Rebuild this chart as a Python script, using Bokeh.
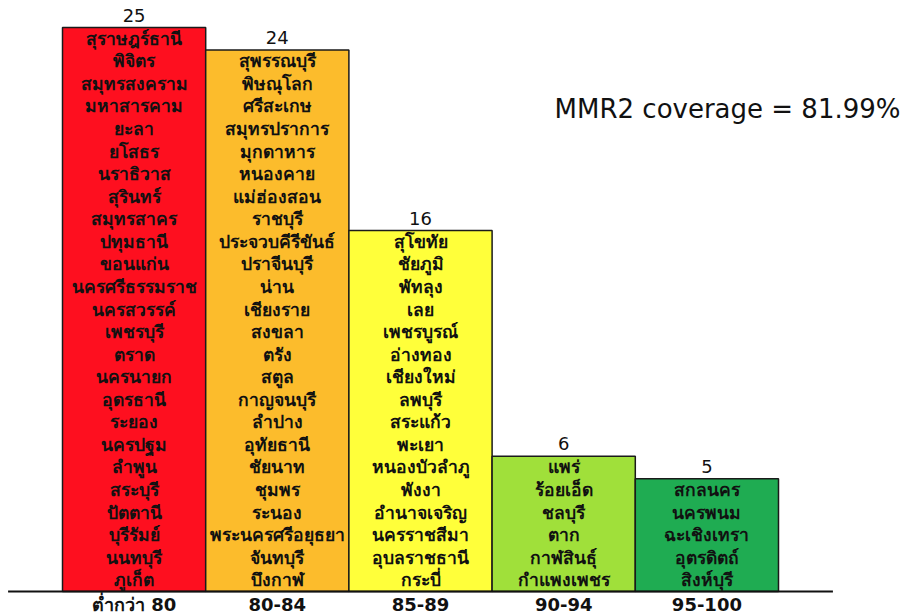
from bokeh.plotting import figure
from bokeh.models import ColumnDataSource, Range1d, Label
from bokeh.core.properties import value
from bokeh.embed import file_html
from bokeh.resources import INLINE

categories = ["ต่ำกว่า 80", "80-84", "85-89", "90-94", "95-100"]
counts = [25, 24, 16, 6, 5]
colors = ["#FE0F1F", "#FCBC2C", "#FFFF3A", "#A0E03A", "#1FAC52"]

provinces_lt80 = ["สุราษฎร์ธานี", "พิจิตร", "สมุทรสงคราม", "มหาสารคาม", "ยะลา", "ยโสธร",
                  "นราธิวาส", "สุรินทร์", "สมุทรสาคร", "ปทุมธานี", "ขอนแก่น", "นครศรีธรรมราช",
                  "นครสวรรค์", "เพชรบุรี", "ตราด", "นครนายก", "อุดรธานี", "ระยอง", "นครปฐม",
                  "ลำพูน", "สระบุรี", "ปัตตานี", "บุรีรัมย์", "นนทบุรี", "ภูเก็ต"]
provinces_80_84 = ["สุพรรณบุรี", "พิษณุโลก", "ศรีสะเกษ", "สมุทรปราการ", "มุกดาหาร", "หนองคาย",
                   "แม่ฮ่องสอน", "ราชบุรี", "ประจวบคีรีขันธ์", "ปราจีนบุรี", "น่าน", "เชียงราย",
                   "สงขลา", "ตรัง", "สตูล", "กาญจนบุรี", "ลำปาง", "อุทัยธานี", "ชัยนาท", "ชุมพร",
                   "ระนอง", "พระนครศรีอยุธยา", "จันทบุรี", "บึงกาฬ"]
provinces_85_89 = ["สุโขทัย", "ชัยภูมิ", "พัทลุง", "เลย", "เพชรบูรณ์", "อ่างทอง", "เชียงใหม่",
                   "ลพบุรี", "สระแก้ว", "พะเยา", "หนองบัวลำภู", "พังงา", "อำนาจเจริญ",
                   "นครราชสีมา", "อุบลราชธานี", "กระบี่"]
provinces_90_94 = ["แพร่", "ร้อยเอ็ด", "ชลบุรี", "ตาก", "กาฬสินธุ์", "กำแพงเพชร"]
provinces_95_100 = ["สกลนคร", "นครพนม", "ฉะเชิงเทรา", "อุตรดิตถ์", "สิงห์บุรี"]
province_groups = [provinces_lt80, provinces_80_84, provinces_85_89, provinces_90_94, provinces_95_100]

coverage_text = "MMR2 coverage = 81.99%"

# layout constants (not data)
W, H = 906, 614
bar_px = 143.2            # pixel width of one bar
unit_px = 22.56           # pixels per count
side_pad = 0.38           # axis line overhang beyond bars, in bar widths
x_start = -0.5 - 62 / bar_px
y_top = 591 / unit_px
y_bottom = -(H - 591) / unit_px

xs = list(range(len(categories)))
bars = ColumnDataSource(dict(x=xs, top=counts, color=colors,
                             label=[str(c) for c in counts],
                             label_y=[c + 0.54 for c in counts],
                             cat=categories,
                             cat_y=[-0.58] * len(categories)))

name_x, name_y, name_t = [], [], []
for xi, group in zip(xs, province_groups):
    for i, name in enumerate(reversed(group)):
        name_x.append(xi)
        name_y.append(i + 0.5)
        name_t.append(name)
names = ColumnDataSource(dict(x=name_x, y=name_y, text=name_t))

p = figure(width=W, height=H, output_backend="svg", toolbar_location=None,
           x_range=Range1d(x_start, x_start + W / bar_px), y_range=Range1d(y_bottom, y_top),
           min_border_left=0, min_border_right=0, min_border_top=0, min_border_bottom=0)

p.vbar(x="x", top="top", width=1.0, bottom=0, source=bars, fill_color="color",
       line_color="#1a1a1a", line_width=1.5)

# baseline (category axis line)
p.segment(x0=[xs[0] - 0.5 - side_pad], y0=[0], x1=[xs[-1] + 0.5 + side_pad], y1=[0],
          line_color="#111111", line_width=2)

p.text(x="x", y="y", text="text", source=names, text_align="center",
       text_baseline="middle", text_font=value("Tahoma"), text_font_size="17.5px",
       text_font_style="bold", text_color="#111111")

p.text(x="x", y="label_y", text="label", source=bars, text_align="center",
       text_baseline="middle", text_font=value("DejaVu Sans"), text_font_size="18px",
       text_color="#111111")

p.text(x="x", y="cat_y", text="cat", source=bars, text_align="center",
       text_baseline="middle", text_font=value("DejaVu Sans"), text_font_size="18px",
       text_font_style="bold", text_color="#111111")

p.add_layout(Label(x=x_start + 900 / bar_px, y=(591 - 108) / unit_px, text=coverage_text,
                   text_align="right", text_baseline="middle", text_font="DejaVu Sans",
                   text_font_size="26px", text_color="#111111"))

p.axis.visible = False
p.xgrid.visible = False
p.ygrid.visible = False
p.outline_line_color = None

open("out.html", "w").write(file_html(p, INLINE))
